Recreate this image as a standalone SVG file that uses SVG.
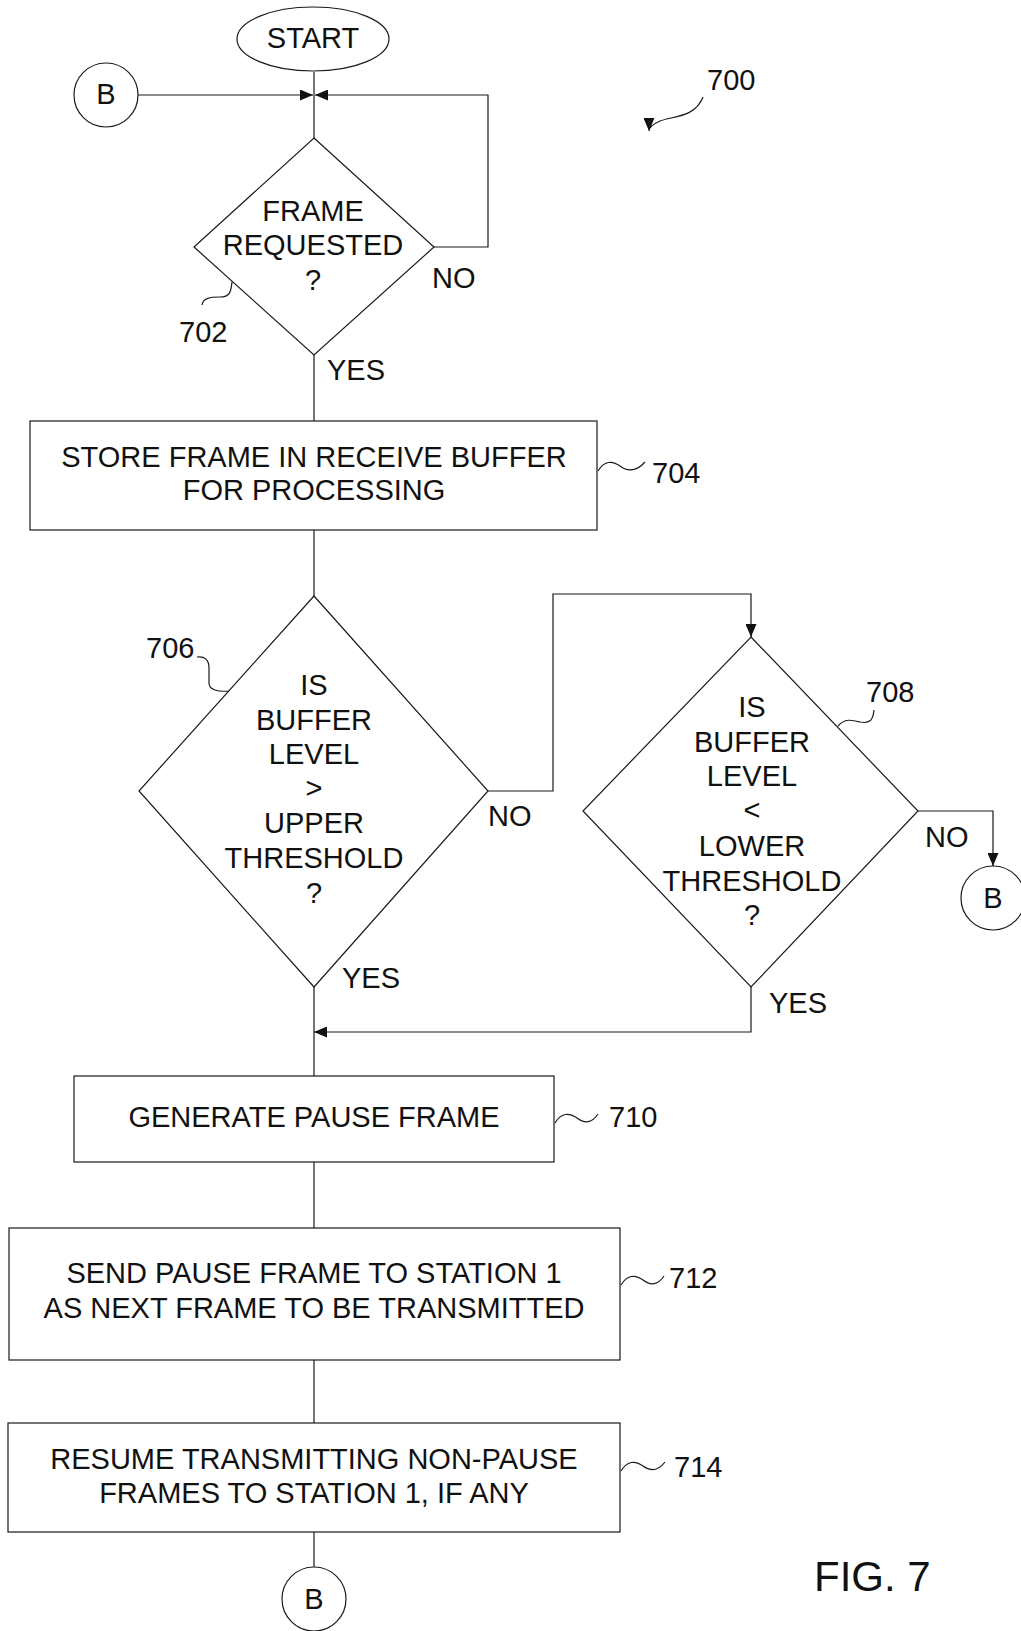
<svg xmlns="http://www.w3.org/2000/svg" width="1021" height="1631" viewBox="0 0 1021 1631">
<style>
.s{fill:none;stroke:#1a1a1a;stroke-width:1.2}
.n{fill:#fff;stroke:#1a1a1a;stroke-width:1.2}
text{font-family:"Liberation Sans",Arial,sans-serif;font-size:29px;fill:#111}
.c{text-anchor:middle}
</style>
<defs>
<marker id="ah" markerWidth="13" markerHeight="11" refX="13" refY="5.5" orient="auto" markerUnits="userSpaceOnUse"><path d="M0,0 L13,5.5 L0,11 z" fill="#111"/></marker>
</defs>
<rect width="1021" height="1631" fill="#fff"/>
<g id="connectors" class="s">
<path d="M314,72 V138"/>
<path d="M138,95 H313" marker-end="url(#ah)"/>
<path d="M434,247 H488 V95 H315" marker-end="url(#ah)"/>
<path d="M314,355 V421"/>
<path d="M314,530 V596"/>
<path d="M488,791 H553 V594 H751 V637" marker-end="url(#ah)"/>
<path d="M918,811 H993 V866" marker-end="url(#ah)"/>
<path d="M751,987 V1032 H314" marker-end="url(#ah)"/>
<path d="M314,987 V1076"/>
<path d="M314,1162 V1228"/>
<path d="M314,1360 V1423"/>
<path d="M314,1532 V1568"/>
</g>
<g id="ref700">
<text x="707" y="90">700</text>
<path class="s" d="M703,97 C695,118 672,116 660,121 C651,125 649,128 649,131" marker-end="url(#ah)"/>
</g>
<g id="start">
<ellipse class="n" cx="313" cy="39" rx="76" ry="32"/>
<text class="c" x="313" y="48">START</text>
</g>
<g id="connB1">
<circle class="n" cx="106" cy="95" r="32"/>
<text class="c" x="106" y="104">B</text>
</g>
<g id="n702">
<polygon class="n" points="314,138 434,247 314,355 194,247"/>
<text class="c" x="313" y="221">FRAME</text>
<text class="c" x="313" y="255">REQUESTED</text>
<text class="c" x="313" y="290">?</text>
<text x="432" y="288">NO</text>
<text x="327" y="380">YES</text>
<text x="179" y="342">702</text>
<path class="s" d="M202,305 C203,298 210,297 220,297 C231,297 231,290 232,282"/>
</g>
<g id="n704">
<rect class="n" x="30" y="421" width="567" height="109"/>
<text class="c" x="314" y="467">STORE FRAME IN RECEIVE BUFFER</text>
<text class="c" x="314" y="500">FOR PROCESSING</text>
<path class="s" d="M598,471 C604,461 612,460 620,466 C628,472 637,471 645,462"/>
<text x="652" y="483">704</text>
</g>
<g id="n706">
<polygon class="n" points="314,596 488,791 314,987 139,791"/>
<text class="c" x="314" y="695">IS</text>
<text class="c" x="314" y="730">BUFFER</text>
<text class="c" x="314" y="764">LEVEL</text>
<text class="c" x="314" y="798">&gt;</text>
<text class="c" x="314" y="833">UPPER</text>
<text class="c" x="314" y="868">THRESHOLD</text>
<text class="c" x="314" y="903">?</text>
<text x="488" y="826">NO</text>
<text x="342" y="988">YES</text>
<text x="146" y="658">706</text>
<path class="s" d="M197,657 C205,656 209,660 209,668 L209,683 C209,690 218,692 229,691"/>
</g>
<g id="n708">
<polygon class="n" points="751,637 918,811 751,987 583,811"/>
<text class="c" x="752" y="717">IS</text>
<text class="c" x="752" y="752">BUFFER</text>
<text class="c" x="752" y="786">LEVEL</text>
<text class="c" x="752" y="820">&lt;</text>
<text class="c" x="752" y="856">LOWER</text>
<text class="c" x="752" y="891">THRESHOLD</text>
<text class="c" x="752" y="925">?</text>
<text x="925" y="847">NO</text>
<text x="769" y="1013">YES</text>
<text x="866" y="702">708</text>
<path class="s" d="M838,726 C845,718 852,720 860,722 C870,724 873,720 874,710"/>
</g>
<g id="connB2">
<circle class="n" cx="993" cy="898" r="32"/>
<text class="c" x="993" y="908">B</text>
</g>
<g id="n710">
<rect class="n" x="74" y="1076" width="480" height="86"/>
<text class="c" x="314" y="1127">GENERATE PAUSE FRAME</text>
<path class="s" d="M555,1123 C561,1113 569,1112 577,1118 C585,1124 592,1123 598,1114"/>
<text x="609" y="1127">710</text>
</g>
<g id="n712">
<rect class="n" x="9" y="1228" width="611" height="132"/>
<text class="c" x="314" y="1283">SEND PAUSE FRAME TO STATION 1</text>
<text class="c" x="314" y="1318">AS NEXT FRAME TO BE TRANSMITTED</text>
<path class="s" d="M621,1285 C627,1275 635,1274 643,1280 C651,1286 658,1285 664,1276"/>
<text x="669" y="1288">712</text>
</g>
<g id="n714">
<rect class="n" x="8" y="1423" width="612" height="109"/>
<text class="c" x="314" y="1469">RESUME TRANSMITTING NON-PAUSE</text>
<text class="c" x="314" y="1503">FRAMES TO STATION 1, IF ANY</text>
<path class="s" d="M621,1471 C627,1461 635,1460 643,1466 C651,1472 658,1471 665,1462"/>
<text x="674" y="1477">714</text>
</g>
<g id="connB3">
<circle class="n" cx="314" cy="1599" r="32"/>
<text class="c" x="314" y="1609">B</text>
</g>
<g id="fig">
<text x="814" y="1591" style="font-size:42px">FIG. 7</text>
</g>
</svg>
